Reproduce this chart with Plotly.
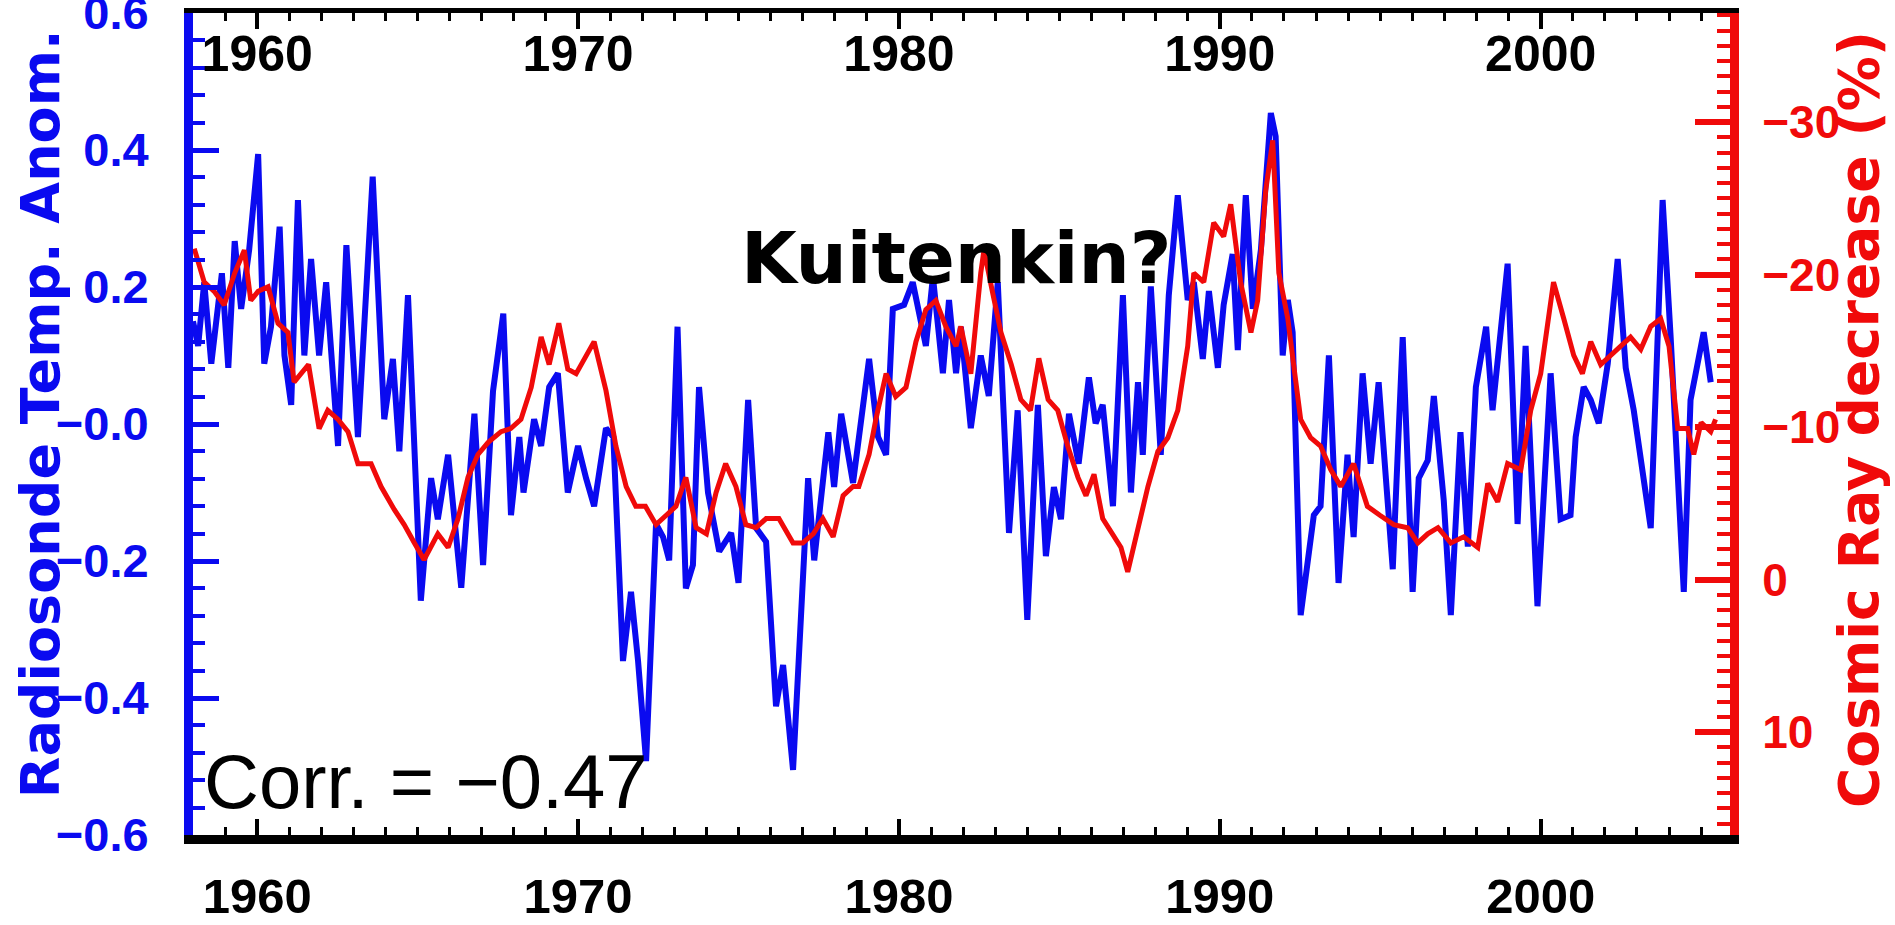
import plotly.graph_objects as go

# ---------------- data ----------------
blue_years = [1958.0, 1958.16, 1958.35, 1958.57, 1958.9, 1959.1, 1959.3, 1959.5, 1959.75, 1960.03,
              1960.22, 1960.43, 1960.7, 1960.85, 1961.06, 1961.27, 1961.47, 1961.68, 1961.93, 1962.15,
              1962.52, 1962.78, 1963.14, 1963.6, 1963.96, 1964.23, 1964.43, 1964.7, 1965.1, 1965.42,
              1965.63, 1965.95, 1966.36, 1966.77, 1967.04, 1967.35, 1967.67, 1967.91, 1968.17, 1968.3,
              1968.63, 1968.85, 1969.1, 1969.37, 1969.68, 1970.0, 1970.25, 1970.5, 1970.87, 1971.1,
              1971.4, 1971.65, 1971.87, 1972.12, 1972.43, 1972.65, 1972.84, 1973.1, 1973.36, 1973.58,
              1973.77, 1974.05, 1974.4, 1974.77, 1975.0, 1975.3, 1975.55, 1975.86, 1976.17, 1976.39,
              1976.7, 1977.17, 1977.36, 1977.8, 1977.98, 1978.2, 1978.57, 1979.07, 1979.35, 1979.6,
              1979.81, 1980.16, 1980.43, 1980.84, 1981.06, 1981.37, 1981.56, 1981.78, 1981.93, 1982.24,
              1982.55, 1982.8, 1983.08, 1983.43, 1983.7, 1984.0, 1984.33, 1984.58, 1984.83, 1985.05,
              1985.3, 1985.6, 1985.92, 1986.13, 1986.35, 1986.67, 1986.98, 1987.23, 1987.45, 1987.6,
              1987.85, 1988.16, 1988.41, 1988.69, 1989.0, 1989.19, 1989.47, 1989.66, 1989.94, 1990.12,
              1990.4, 1990.56, 1990.81, 1991.03, 1991.28, 1991.59, 1991.74, 1991.96, 1992.12, 1992.27,
              1992.52, 1992.77, 1992.93, 1993.14, 1993.4, 1993.7, 1993.98, 1994.17, 1994.45, 1994.7,
              1994.95, 1995.39, 1995.7, 1996.01, 1996.2, 1996.48, 1996.67, 1996.98, 1997.2, 1997.5,
              1997.73, 1997.98, 1998.3, 1998.5, 1998.66, 1998.97, 1999.28, 1999.53, 1999.9, 2000.31,
              2000.62, 2000.93, 2001.09, 2001.34, 2001.56, 2001.81, 2002.09, 2002.4, 2002.65, 2002.9,
              2003.43, 2003.8, 2004.05, 2004.46, 2004.67, 2005.08, 2005.3]
blue_temp = [0.15, 0.114, 0.207, 0.088, 0.22, 0.082, 0.267, 0.168, 0.254, 0.394,
             0.088, 0.142, 0.288, 0.10, 0.028, 0.327, 0.10, 0.241, 0.10, 0.207,
             -0.032, 0.261, -0.019, 0.361, 0.007, 0.095, -0.04, 0.188, -0.258, -0.079,
             -0.139, -0.045, -0.239, 0.015, -0.206, 0.048, 0.161, -0.133, -0.019, -0.10,
             0.007, -0.032, 0.054, 0.074, -0.10, -0.032, -0.079, -0.12, -0.006, -0.019,
             -0.346, -0.245, -0.346, -0.492, -0.146, -0.165, -0.199, 0.142, -0.24, -0.206,
             0.054, -0.10, -0.186, -0.159, -0.232, 0.035, -0.152, -0.172, -0.412, -0.352,
             -0.505, -0.079, -0.199, -0.012, -0.092, 0.015, -0.086, 0.095, -0.019, -0.045,
             0.168, 0.174, 0.207, 0.114, 0.215, 0.074, 0.181, 0.074, 0.142, -0.006,
             0.10, 0.041, 0.207, -0.159, 0.02, -0.286, 0.028, -0.193, -0.092, -0.139,
             0.015, -0.058, 0.068, 0.001, 0.028, -0.12, 0.188, -0.10, 0.061, -0.045,
             0.201, -0.045, 0.188, 0.334, 0.181, 0.207, 0.095, 0.194, 0.082, 0.174,
             0.248, 0.108, 0.334, 0.168, 0.254, 0.454, 0.42, 0.10, 0.181, 0.134,
             -0.279, -0.186, -0.133, -0.12, 0.10, -0.232, -0.045, -0.165, 0.074, -0.058,
             0.061, -0.212, 0.127, -0.245, -0.079, -0.053, 0.041, -0.112, -0.279, -0.012,
             -0.179, 0.054, 0.142, 0.02, 0.10, 0.234, -0.146, 0.114, -0.266, 0.074,
             -0.139, -0.133, -0.019, 0.054, 0.035, 0.001, 0.088, 0.241, 0.082, 0.02,
             -0.152, 0.327, 0.127, -0.245, 0.035, 0.134, 0.061]

red_years = [1958.04, 1958.35, 1958.66, 1958.97, 1959.3, 1959.6, 1959.8, 1960.03, 1960.34, 1960.65,
             1960.96, 1961.15, 1961.6, 1961.93, 1962.2, 1962.52, 1962.83, 1963.14, 1963.55, 1963.86,
             1964.27, 1964.58, 1964.9, 1965.2, 1965.63, 1965.95, 1966.26, 1966.57, 1966.88, 1967.2,
             1967.6, 1967.9, 1968.22, 1968.54, 1968.85, 1969.1, 1969.4, 1969.68, 1969.94, 1970.25,
             1970.5, 1970.87, 1971.18, 1971.5, 1971.8, 1972.1, 1972.43, 1972.74, 1973.05, 1973.36,
             1973.68, 1974.0, 1974.3, 1974.6, 1974.92, 1975.23, 1975.55, 1975.86, 1976.26, 1976.7,
             1977.0, 1977.33, 1977.63, 1977.95, 1978.26, 1978.57, 1978.75, 1979.07, 1979.28, 1979.6,
             1979.9, 1980.22, 1980.53, 1980.84, 1981.15, 1981.46, 1981.78, 1981.93, 1982.24, 1982.55,
             1982.65, 1982.93, 1983.18, 1983.5, 1983.8, 1984.1, 1984.36, 1984.65, 1984.95, 1985.26,
             1985.58, 1985.83, 1986.08, 1986.35, 1986.67, 1986.92, 1987.13, 1987.45, 1987.76, 1988.07,
             1988.38, 1988.69, 1989.0, 1989.19, 1989.5, 1989.81, 1990.12, 1990.34, 1990.65, 1990.97,
             1991.18, 1991.43, 1991.65, 1991.84, 1992.12, 1992.3, 1992.52, 1992.83, 1993.14, 1993.46,
             1993.77, 1994.17, 1994.6, 1995.0, 1995.42, 1995.85, 1996.17, 1996.48, 1996.8, 1997.2,
             1997.6, 1998.04, 1998.35, 1998.66, 1998.97, 1999.38, 1999.69, 2000.0, 2000.4, 2000.72,
             2001.03, 2001.3, 2001.56, 2001.87, 2002.18, 2002.5, 2002.8, 2003.12, 2003.43, 2003.74,
             2004.0, 2004.27, 2004.58, 2004.77, 2005.0, 2005.3, 2005.45]
red_cosmic = [-21.7, -19.5, -18.9, -18.0, -20.1, -21.6, -18.3, -18.9, -19.2, -16.8,
              -16.2, -12.95, -14.1, -9.9, -11.1, -10.5, -9.7, -7.6, -7.6, -6.1,
              -4.6, -3.6, -2.4, -1.3, -3.0, -2.1, -4.0, -6.7, -8.2, -9.0,
              -9.7, -9.9, -10.5, -12.6, -15.9, -14.1, -16.8, -13.8, -13.5, -14.7,
              -15.6, -12.4, -8.75, -6.1, -4.8, -4.8, -3.6, -4.2, -4.8, -6.7,
              -3.4, -3.0, -5.7, -7.6, -6.1, -3.6, -3.4, -4.0, -4.0, -2.4,
              -2.4, -3.0, -4.0, -2.8, -5.5, -6.1, -6.1, -8.2, -10.5, -13.5,
              -12.0, -12.6, -15.6, -17.7, -18.3, -16.6, -15.3, -16.6, -13.5, -20.1,
              -21.6, -18.7, -16.2, -14.1, -11.8, -11.1, -14.5, -11.8, -11.1, -8.75,
              -6.7, -5.5, -6.9, -4.0, -3.0, -2.1, -0.5, -3.4, -6.1, -8.4,
              -9.3, -11.1, -15.3, -20.1, -19.5, -23.4, -22.5, -24.6, -19.5, -16.2,
              -18.3, -25.5, -28.8, -20.1, -17.1, -14.1, -10.5, -9.3, -8.75, -7.2,
              -6.1, -7.6, -4.8, -4.2, -3.6, -3.4, -2.4, -3.0, -3.4, -2.4,
              -2.8, -2.1, -6.3, -5.1, -7.6, -7.2, -11.1, -13.5, -19.5, -17.1,
              -14.7, -13.5, -15.6, -14.1, -14.7, -15.3, -15.9, -15.1, -16.6, -17.1,
              -15.3, -9.9, -9.9, -8.2, -10.3, -9.7, -10.5]

year_ticks = [1960, 1970, 1980, 1990, 2000]
year_labels = ["1960", "1970", "1980", "1990", "2000"]
temp_ticks = [-0.6, -0.4, -0.2, 0.0, 0.2, 0.4, 0.6]
temp_labels = ["\u22120.6", "\u22120.4", "\u22120.2", "\u22120.0", "0.2", "0.4", "0.6"]
cr_ticks = [-30, -20, -10, 0, 10]
cr_labels = ["\u221230", "\u221220", "\u221210", "0", "10"]

# ---------------- style ----------------
BLUE = "#0a0af0"
RED = "#f00a0a"
BLACK = "#000000"
SANS = "Liberation Sans, Arial, sans-serif"
WIDE = "DejaVu Sans, Liberation Sans, Arial, sans-serif"

fig = go.Figure()
fig.add_trace(go.Scatter(x=blue_years, y=blue_temp, mode="lines",
                         line=dict(color=BLUE, width=6), xaxis="x", yaxis="y",
                         name="Radiosonde Temp. Anom."))
fig.add_trace(go.Scatter(x=red_years, y=red_cosmic, mode="lines",
                         line=dict(color=RED, width=5), xaxis="x2", yaxis="y2",
                         name="Cosmic Ray decrease (%)"))

xrange = [1958.0, 2005.9]

fig.update_layout(
    width=1895, height=925,
    margin=dict(l=193, r=165, t=13, b=90, autoexpand=False),
    paper_bgcolor="white", plot_bgcolor="white",
    showlegend=False,
    xaxis=dict(range=xrange, showgrid=False, zeroline=False, automargin=False,
               showline=True, linecolor=BLACK, linewidth=9,
               ticks="inside", ticklen=16, tickwidth=4, tickcolor=BLACK,
               tickmode="array", tickvals=year_ticks, ticktext=year_labels,
               tickfont=dict(family=SANS, size=49, color=BLACK, weight="bold"),
               ticklabelstandoff=10, ticklabeloverflow="allow",
               minor=dict(dtick=1, tick0=1960, ticks="inside", ticklen=8,
                          tickwidth=3, tickcolor=BLACK, showgrid=False)),
    xaxis2=dict(range=xrange, overlaying="x", side="top", anchor="y2",
                showgrid=False, zeroline=False, automargin=False,
                showline=True, linecolor=BLACK, linewidth=5,
                ticks="inside", ticklen=16, tickwidth=4, tickcolor=BLACK,
                tickmode="array", tickvals=year_ticks, ticktext=year_labels,
                tickfont=dict(family=SANS, size=50, color=BLACK, weight="bold"),
                ticklabelposition="inside",
                ticklabelstandoff=14, ticklabeloverflow="allow",
                minor=dict(dtick=1, tick0=1960, ticks="inside", ticklen=8,
                           tickwidth=3, tickcolor=BLACK, showgrid=False)),
    yaxis=dict(range=[-0.6, 0.6], showgrid=False, zeroline=False, automargin=False,
               showline=True, linecolor=BLUE, linewidth=9,
               ticks="inside", ticklen=26, tickwidth=5, tickcolor=BLUE,
               tickmode="array", tickvals=temp_ticks, ticktext=temp_labels,
               tickfont=dict(family=SANS, size=47, color=BLUE, weight="bold"),
               ticklabelstandoff=26, ticklabeloverflow="allow",
               minor=dict(dtick=0.04, tick0=0, ticks="inside", ticklen=12,
                          tickwidth=4, tickcolor=BLUE, showgrid=False)),
    yaxis2=dict(range=[16.75, -37.15], overlaying="y", side="right", anchor="x2",
                showgrid=False, zeroline=False, automargin=False,
                showline=True, linecolor=RED, linewidth=9,
                ticks="inside", ticklen=35, tickwidth=6, tickcolor=RED,
                tickmode="array", tickvals=cr_ticks, ticktext=cr_labels,
                tickfont=dict(family=SANS, size=46, color=RED, weight="bold"),
                ticklabelstandoff=14, ticklabeloverflow="allow",
                minor=dict(dtick=1, tick0=0, ticks="inside", ticklen=13,
                           tickwidth=4, tickcolor=RED, showgrid=False)),
)

annotations = [
    dict(text="Radiosonde Temp. Anom.", xref="paper", yref="paper",
         x=-0.0995, y=0.512, xanchor="center", yanchor="middle", textangle=-90,
         showarrow=False, font=dict(family=WIDE, size=54, color=BLUE, weight="bold")),
    dict(text="Cosmic Ray decrease (%)", xref="paper", yref="paper",
         x=1.084, y=0.505, xanchor="center", yanchor="middle", textangle=-90,
         showarrow=False, font=dict(family=WIDE, size=55, color=RED, weight="bold")),
    dict(text="Corr. = \u22120.47", xref="paper", yref="paper",
         x=0.006, y=0.011, xanchor="left", yanchor="bottom",
         showarrow=False, font=dict(family=SANS, size=76, color=BLACK)),
    dict(text="Kuitenkin?", xref="paper", yref="paper",
         x=0.497, y=0.702, xanchor="center", yanchor="middle",
         showarrow=False, font=dict(family=WIDE, size=72, color=BLACK, weight="bold")),
]
fig.update_layout(annotations=annotations)

fig.write_html("out.html", config=dict(displayModeBar=False),
               post_script="document.body.style.margin='0px';")
